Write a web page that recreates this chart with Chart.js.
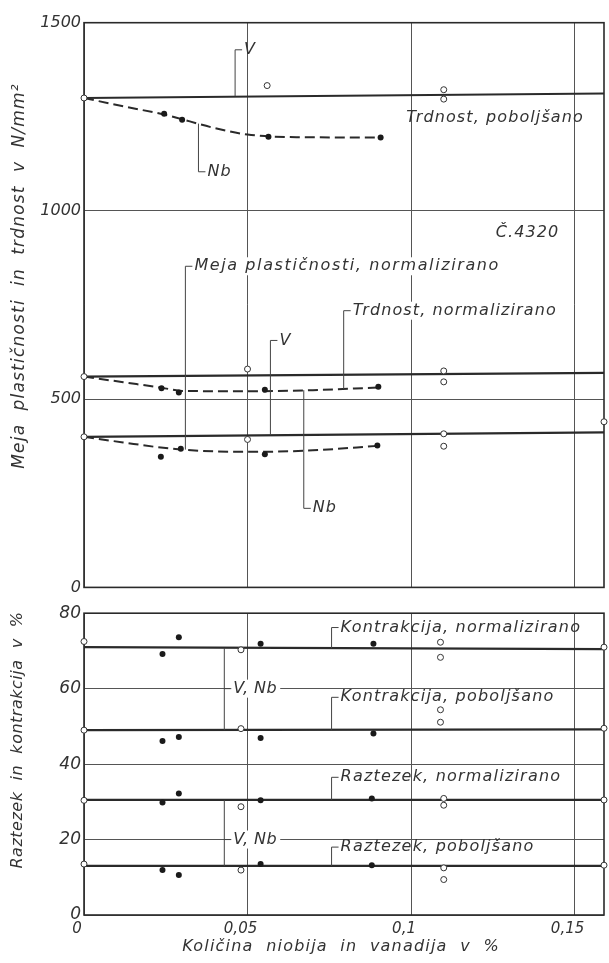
<!DOCTYPE html>
<html>
<head>
<meta charset="utf-8">
<script src="https://cdn.jsdelivr.net/npm/chart.js@4.4.0/dist/chart.umd.min.js"></script>
<style>
  html, body { margin: 0; padding: 0; background: #fff; }
  #wrap { position: relative; width: 609px; height: 963px; }
  #top { position: absolute; left: 0; top: 0; width: 609px; height: 600px; }
  #bot { position: absolute; left: 0; top: 600px; width: 609px; height: 363px; }
</style>
</head>
<body>
<div id="wrap">
  <div id="top"><canvas id="topChart"></canvas></div>
  <div id="bot"><canvas id="botChart"></canvas></div>
</div>
<script>
// x axis: amount of Nb / V in %
const xTicks = [0, 0.05, 0.1, 0.15];
const xMax = 0.159;

// top panel (N/mm2)
const strengthTicks = [0, 500, 1000, 1500];

// Trdnost, poboljšano
const tpV_line = [[0, 1300], [0.159, 1312]];
const tpV_pts = [[0, 1300], [0.056, 1333], [0.11, 1322], [0.11, 1297]];
const tpNb_curve = [[0, 1300], [0.012, 1278], [0.025, 1255], [0.04, 1220], [0.05, 1203], [0.065, 1196], [0.091, 1195]];
const tpNb_pts = [[0.0245, 1258], [0.030, 1242], [0.0564, 1197], [0.0907, 1195]];

// Trdnost, normalizirano
const tnV_line = [[0, 560], [0.159, 570]];
const tnV_pts = [[0, 560], [0.05, 580], [0.11, 575], [0.11, 546]];
const tnNb_curve = [[0, 560], [0.012, 545], [0.024, 530], [0.03, 522], [0.05, 521], [0.07, 524], [0.09, 531]];
const tnNb_pts = [[0.0237, 529], [0.029, 518], [0.0553, 525], [0.090, 533]];

// Meja plastičnosti, normalizirano
const mnV_line = [[0, 400], [0.159, 412]];
const mnV_pts = [[0, 400], [0.05, 393], [0.11, 408], [0.11, 375], [0.159, 440]];
const mnNb_curve = [[0, 400], [0.012, 385], [0.025, 370], [0.035, 363], [0.05, 360], [0.07, 364], [0.09, 376]];
const mnNb_pts = [[0.0235, 347], [0.0296, 368], [0.0553, 354], [0.0897, 377]];

// bottom panel (%)
const pctTicks = [0, 20, 40, 60, 80];

const knLine = [[0, 71], [0.159, 70.5]];
const knV = [[0, 72.5], [0.048, 70.3], [0.109, 72.3], [0.109, 68.3], [0.159, 71]];
const knNb = [[0.024, 69.2], [0.029, 73.6], [0.054, 71.9], [0.0885, 71.9]];

const kpLine = [[0, 49], [0.159, 49.2]];
const kpV = [[0, 49], [0.048, 49.4], [0.109, 54.4], [0.109, 51.1], [0.159, 49.5]];
const kpNb = [[0.024, 46.1], [0.029, 47.2], [0.054, 46.9], [0.0885, 48.1]];

const rnLine = [[0, 30.5], [0.159, 30.5]];
const rnV = [[0, 30.4], [0.048, 28.7], [0.11, 30.9], [0.11, 29.1], [0.159, 30.5]];
const rnNb = [[0.024, 29.8], [0.029, 32.2], [0.054, 30.4], [0.088, 30.9]];

const rpLine = [[0, 13], [0.159, 13]];
const rpV = [[0, 13.5], [0.048, 11.9], [0.11, 12.5], [0.11, 9.4], [0.159, 13.2]];
const rpNb = [[0.024, 11.9], [0.029, 10.6], [0.054, 13.5], [0.088, 13.2]];

const INK = '#2a2a2a';
const FONT = 'DejaVu Sans';

const pts = arr => arr.map(([x, y]) => ({ x, y }));

function solid(arr) {
  return { data: pts(arr), showLine: true, borderColor: INK, borderWidth: 2.2, pointRadius: 0, order: 2, clip: false };
}
function dashed(arr) {
  return { data: pts(arr), showLine: true, borderColor: INK, borderWidth: 2, borderDash: [10, 5],
           cubicInterpolationMode: 'monotone', pointRadius: 0, order: 2, clip: false };
}
function openDots(arr) {
  return { data: pts(arr), showLine: false, pointRadius: 3, pointBorderWidth: 1,
           pointBorderColor: '#333', pointBackgroundColor: '#fff', order: 0, clip: false };
}
function fullDots(arr) {
  return { data: pts(arr), showLine: false, pointRadius: 3, pointBorderWidth: 0,
           pointBackgroundColor: '#1a1a1a', order: 0, clip: false };
}

const frame = {
  id: 'frame',
  beforeDatasetsDraw(chart) {
    const { ctx, chartArea: a } = chart;
    ctx.save();
    ctx.strokeStyle = INK;
    ctx.lineWidth = 1.6;
    ctx.strokeRect(a.left, a.top, a.right - a.left, a.bottom - a.top);
    ctx.restore();
  }
};

function notesPlugin(notes) {
  return {
    id: 'notes',
    afterDatasetsDraw(chart) {
      const { ctx } = chart;
      const sx = chart.scales.x, sy = chart.scales.y;
      ctx.save();
      ctx.fillStyle = '#333';
      ctx.strokeStyle = '#444';
      ctx.lineWidth = 1;
      ctx.textBaseline = 'middle';
      ctx.textAlign = 'left';
      notes.forEach(n => {
        ctx.font = 'italic ' + (n.size || 16) + 'px "' + FONT + '"';
        ctx.letterSpacing = (n.ls == null ? 1.1 : n.ls) + 'px';
        if (n.type === 'title') {
          ctx.save();
          ctx.translate(n.px, n.py);
          ctx.rotate(n.rot || 0);
          ctx.textAlign = 'center';
          ctx.fillText(n.text, 0, 0);
          ctx.restore();
          return;
        }
        const X = sx.getPixelForValue(n.x);
        if (n.type === 'text') {
          ctx.fillText(n.text, X, sy.getPixelForValue(n.y));
          return;
        }
        const Y0 = sy.getPixelForValue(n.y0);
        const Y1 = sy.getPixelForValue(n.y1);
        const Yt = n.type === 'bracket' ? sy.getPixelForValue(n.ym) : Y1;
        const w = ctx.measureText(n.text).width;
        if (n.bg) {
          ctx.fillStyle = '#fff';
          ctx.fillRect(X + 6, Yt - 9, w + 6, 18);
          ctx.fillStyle = '#333';
        }
        ctx.beginPath();
        ctx.moveTo(X, Y0);
        ctx.lineTo(X, Y1);
        ctx.moveTo(X, Yt);
        ctx.lineTo(X + 7, Yt);
        ctx.stroke();
        ctx.fillText(n.text, X + 9, Yt);
      });
      ctx.restore();
    }
  };
}

const fmtX = v => v === 0 ? '0' : String(v).replace('.', ',');

function xScale(showTicks, h) {
  return {
    type: 'linear', min: 0, max: xMax,
    afterBuildTicks: s => { s.ticks = xTicks.map(v => ({ value: v })); },
    afterFit: s => { s.height = h; },
    border: { display: false },
    grid: { color: '#555', lineWidth: 1, drawTicks: false },
    ticks: {
      display: showTicks, padding: 5, labelOffset: -7, color: '#333',
      font: { family: FONT, size: 15, style: 'italic' },
      callback: fmtX
    }
  };
}
function yScale(max, tickVals, size) {
  return {
    min: 0, max: max,
    afterBuildTicks: s => { s.ticks = tickVals.map(v => ({ value: v })); },
    afterFit: s => { s.width = 84; },
    border: { display: false },
    grid: { color: '#555', lineWidth: 1, drawTicks: false },
    ticks: { padding: 3, color: '#333', font: { family: FONT, size: size, style: 'italic' },
             callback: v => String(v) }
  };
}

const baseOpts = {
  responsive: true,
  maintainAspectRatio: false,
  animation: false,
  plugins: { legend: { display: false }, tooltip: { enabled: false } }
};

new Chart(document.getElementById('topChart').getContext('2d'), {
  type: 'scatter',
  data: {
    datasets: [
      solid(tpV_line), dashed(tpNb_curve), openDots(tpV_pts), fullDots(tpNb_pts),
      solid(tnV_line), dashed(tnNb_curve), openDots(tnV_pts), fullDots(tnNb_pts),
      solid(mnV_line), dashed(mnNb_curve), openDots(mnV_pts), fullDots(mnNb_pts)
    ]
  },
  options: Object.assign({}, baseOpts, {
    layout: { padding: { top: 22.7, right: 2, left: 0, bottom: 0 } },
    scales: { x: xScale(false, 8.3), y: yScale(1500, strengthTicks, 16) }
  }),
  plugins: [frame, notesPlugin([
    { type: 'leader', x: 0.0462, y0: 1305, y1: 1428, text: 'V' },
    { type: 'leader', x: 0.035, y0: 1232, y1: 1104, text: 'Nb' },
    { type: 'text', x: 0.0985, y: 1246, text: 'Trdnost, poboljšano' },
    { type: 'text', x: 0.1259, y: 943, text: 'Č.4320' },
    { type: 'leader', x: 0.031, y0: 366, y1: 853, text: 'Meja plastičnosti, normalizirano', bg: true, ls: 1.6 },
    { type: 'leader', x: 0.057, y0: 404, y1: 656, text: 'V', bg: true },
    { type: 'leader', x: 0.0794, y0: 527, y1: 735, text: 'Trdnost, normalizirano', bg: true },
    { type: 'leader', x: 0.0672, y0: 524, y1: 210, text: 'Nb' },
    { type: 'title', px: 20, py: 276, rot: -Math.PI / 2, size: 17, ls: 1.2, text: 'Meja  plastičnosti  in  trdnost  v  N/mm²' }
  ])]
});

new Chart(document.getElementById('botChart').getContext('2d'), {
  type: 'scatter',
  data: {
    datasets: [
      solid(knLine), openDots(knV), fullDots(knNb),
      solid(kpLine), openDots(kpV), fullDots(kpNb),
      solid(rnLine), openDots(rnV), fullDots(rnNb),
      solid(rpLine), openDots(rpV), fullDots(rpNb)
    ]
  },
  options: Object.assign({}, baseOpts, {
    layout: { padding: { top: 12.7, right: 2, left: 0, bottom: 0 } },
    scales: { x: xScale(true, 48), y: yScale(80, pctTicks, 17) }
  }),
  plugins: [frame, notesPlugin([
    { type: 'bracket', x: 0.0429, y0: 70.8, y1: 49, ym: 60, text: 'V, Nb', bg: true, ls: 0.5 },
    { type: 'bracket', x: 0.0429, y0: 30.5, y1: 13, ym: 20, text: 'V, Nb', bg: true, ls: 0.5 },
    { type: 'leader', x: 0.0757, y0: 70.7, y1: 76.2, text: 'Kontrakcija, normalizirano', ls: 1.2 },
    { type: 'leader', x: 0.0757, y0: 49, y1: 57.7, text: 'Kontrakcija, poboljšano', ls: 1.2 },
    { type: 'leader', x: 0.0757, y0: 30.5, y1: 36.5, text: 'Raztezek, normalizirano', ls: 1.2 },
    { type: 'leader', x: 0.0757, y0: 13, y1: 18, text: 'Raztezek, poboljšano', ls: 1.2 },
    { type: 'title', px: 18, py: 140, rot: -Math.PI / 2, size: 16, ls: 0.5, text: 'Raztezek  in  kontrakcija  v  %' },
    { type: 'title', px: 341, py: 347, size: 16, ls: 1.2, text: 'Količina  niobija  in  vanadija  v  %' }
  ])]
});
</script>
</body>
</html>
